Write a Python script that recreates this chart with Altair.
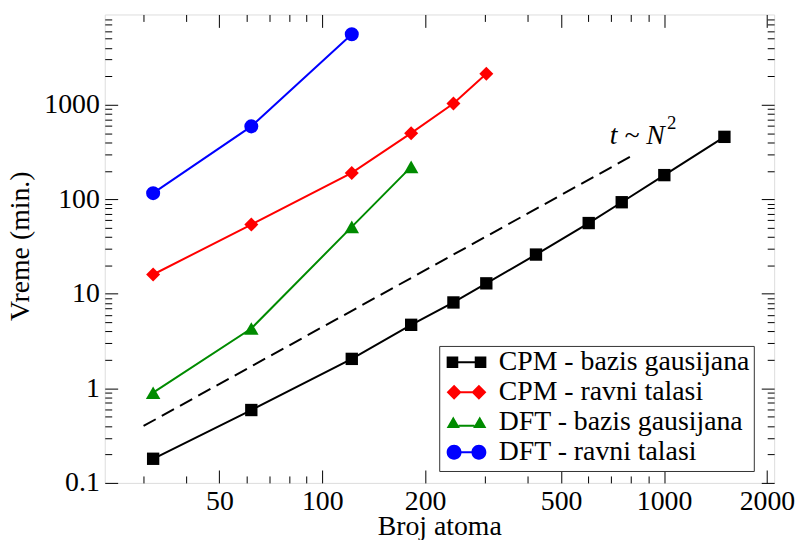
import altair as alt
import pandas as pd

# ---------------- data ----------------
series_names = ["CPM - bazis gausijana", "CPM - ravni talasi",
                "DFT - bazis gausijana", "DFT - ravni talasi"]
series_colors = ["#000000", "#ff0000", "#008b00", "#0000ff"]
series_shapes = ["square", "diamond", "triangle-up", "circle"]
series_sizes = [155, 200, 215, 200]

n_cpm_gauss = [32, 62, 122, 182, 242, 302, 422, 602, 752, 1002, 1502]
t_cpm_gauss = [0.18, 0.59, 2.05, 4.7, 8.1, 12.9, 26, 56, 93, 180, 457]
n_cpm_pw = [32, 62, 122, 182, 242, 302]
t_cpm_pw = [16, 54, 190, 500, 1030, 2120]
n_dft_gauss = [32, 62, 122, 182]
t_dft_gauss = [0.9, 4.3, 51, 220]
n_dft_pw = [32, 62, 122]
t_dft_pw = [116, 590, 5560]

guide_n = [30, 800]
guide_t = [0.4, 284]

ann_main_n = [1005]
ann_main_t = [380]
ann_main_text = ["t ~ N"]
ann_sup_n = [1020]
ann_sup_t = [551]
ann_sup_text = ["2"]

x_domain = [23.1, 2100]
y_domain = [0.1, 9000]
x_major = [50, 100, 200, 500, 1000, 2000]
x_minor = [30, 40, 60, 70, 80, 90, 300, 400, 600, 700, 800, 900]
y_major = [0.1, 1, 10, 100, 1000]
y_minor = [0.2, 0.3, 0.4, 0.5, 0.6, 0.7, 0.8, 0.9,
           2, 3, 4, 5, 6, 7, 8, 9,
           20, 30, 40, 50, 60, 70, 80, 90,
           200, 300, 400, 500, 600, 700, 800, 900,
           2000, 3000, 4000, 5000, 6000, 7000, 8000]

# composite legend symbols (marker - line - marker), unit square [-1,1]
legend_paths = [
    "M-1,-0.29H-0.415V-0.05H0.415V-0.29H1V0.29H0.415V0.05H-0.415V0.29H-1Z",
    "M-1,0L-0.625,-0.375L-0.25,0L-0.625,0.375Z M0.25,0L0.625,-0.375L1,0L0.625,0.375Z M-0.3,-0.05H0.3V0.05H-0.3Z",
    "M-0.667,-0.29L-0.333,0.29L-1,0.29Z M0.667,-0.29L1,0.29L0.333,0.29Z M-0.4,0.12H0.4V0.22H-0.4Z",
    "M-1,0A0.375,0.375 0 1,1 -0.25,0A0.375,0.375 0 1,1 -1,0Z M0.25,0A0.375,0.375 0 1,1 1,0A0.375,0.375 0 1,1 0.25,0Z M-0.3,-0.05H0.3V0.05H-0.3Z",
]

all_n = [n_cpm_gauss, n_cpm_pw, n_dft_gauss, n_dft_pw]
all_t = [t_cpm_gauss, t_cpm_pw, t_dft_gauss, t_dft_pw]
rows = []
for name, ns, ts in zip(series_names, all_n, all_t):
    for n, t in zip(ns, ts):
        rows.append({"series": name, "n": n, "t": t})
df = pd.DataFrame(rows)
guide_df = pd.DataFrame({"n": guide_n, "t": guide_t})
ann_main = pd.DataFrame({"n": ann_main_n, "t": ann_main_t, "label": ann_main_text})
ann_sup = pd.DataFrame({"n": ann_sup_n, "t": ann_sup_t, "label": ann_sup_text})

FONT = "Liberation Serif"
xs = alt.Scale(type="log", domain=x_domain, nice=False, zero=False)
ys = alt.Scale(type="log", domain=y_domain, nice=False, zero=False)
color_scale = alt.Scale(domain=series_names, range=series_colors)

legend = alt.Legend(
    title=" ", titleFontSize=1, titlePadding=2,
    orient="none", legendX=337, legendY=334,
    padding=4, strokeColor="#333333", fillColor="white",
    labelFont=FONT, labelFontSize=28, labelColor="black", labelOffset=12.5, labelLimit=0,
    symbolSize=1600, symbolStrokeWidth=0, symbolOpacity=1, symbolOffset=3.5,
    clipHeight=19, rowPadding=1.2,
)


def X(axis=None):
    return alt.X("n:Q", scale=xs, axis=axis)


def Y(axis=None):
    return alt.Y("t:Q", scale=ys, axis=axis)


def C():
    return alt.Color("series:N", scale=color_scale, legend=legend)


layers = []

# dashed t ~ N^2 guide
layers.append(
    alt.Chart(guide_df).mark_line(color="black", strokeWidth=2, strokeDash=[14, 7])
    .encode(x=X(), y=Y())
)

# series lines
layers.append(
    alt.Chart(df).mark_line(strokeWidth=2).encode(x=X(), y=Y(), color=C())
)

# series markers
for name, shp, sz in zip(series_names, series_shapes, series_sizes):
    layers.append(
        alt.Chart(df[df["series"] == name]).mark_point(shape=shp, size=sz, filled=True, opacity=1)
        .encode(x=X(), y=Y(), color=C())
    )

# legend carrier (invisible marks, composite legend symbols)
layers.append(
    alt.Chart(df).mark_point(filled=True, opacity=0)
    .encode(
        x=X(), y=Y(), color=C(),
        shape=alt.Shape("series:N", scale=alt.Scale(domain=series_names, range=legend_paths), legend=legend),
    )
)

# annotation
layers.append(
    alt.Chart(ann_main).mark_text(font=FONT, fontStyle="italic", fontSize=28, align="right",
                                  baseline="alphabetic", color="black")
    .encode(x=X(), y=Y(), text="label:N")
)
layers.append(
    alt.Chart(ann_sup).mark_text(font=FONT, fontSize=19, align="left",
                                 baseline="alphabetic", color="black")
    .encode(x=X(), y=Y(), text="label:N")
)

# axes
label_x = alt.Axis(orient="bottom", values=x_major, format="~g", ticks=False, tickSize=0,
                   domain=False, grid=False, labelPadding=5, labelFont=FONT, labelFontSize=28,
                   labelColor="black", labelFlush=False, labelOverlap=False,
                   title="Broj atoma", titleFont=FONT, titleFontSize=28, titleFontWeight="normal",
                   titleColor="black", titleX=337, titleY=51.5, titleBaseline="alphabetic",
                   titleAlign="center")
label_y = alt.Axis(orient="left", values=y_major, format="~g", ticks=False, tickSize=0,
                   domain=False, grid=False, labelPadding=5.5, labelFont=FONT, labelFontSize=28,
                   labelColor="black", labelFlush=False, labelOverlap=False,
                   title="Vreme (min.)", titleFont=FONT, titleFontSize=28, titleFontWeight="normal",
                   titleColor="black", titleX=-77, titleY=233, titleBaseline="alphabetic",
                   titleAlign="center", titleAngle=270)


def tick_axis(orient, values, size):
    return alt.Axis(orient=orient, values=values, ticks=True, tickSize=size, offset=-size,
                    labels=False, domain=False, grid=False, title=None,
                    tickColor="black", tickWidth=1)


axis_pairs = [
    (label_x, label_y),
    (tick_axis("bottom", x_major, 13), tick_axis("left", y_major, 13)),
    (tick_axis("bottom", x_minor, 7), tick_axis("left", y_minor, 7)),
    (tick_axis("top", x_major, 13), tick_axis("right", y_major, 13)),
    (tick_axis("top", x_minor, 7), tick_axis("right", y_minor, 7)),
]
for ax, ay in axis_pairs:
    layers.append(
        alt.Chart(df).mark_point(opacity=0, size=1).encode(x=X(ax), y=Y(ay))
    )

chart = (
    alt.layer(*layers)
    .resolve_axis(x="independent", y="independent")
    .properties(
        width=674.5, height=472,
        autosize=alt.AutoSizeParams(type="none"),
        padding={"left": 97.5, "top": 4.5, "right": 21, "bottom": 55},
        background="white",
    )
    .configure_view(stroke="black", strokeWidth=1.5)
    .configure(font=FONT)
)

chart.save("out.html", embed_options={"renderer": "svg", "actions": False})
